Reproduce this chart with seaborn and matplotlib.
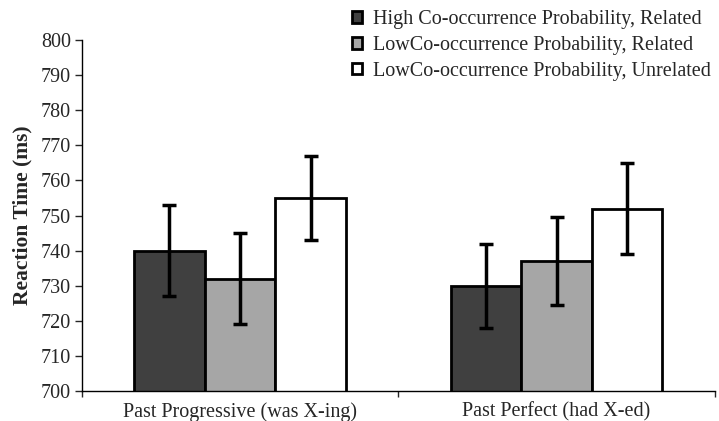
import pandas as pd
import numpy as np
import matplotlib.pyplot as plt
import seaborn as sns

# data
tenses = ['Past Progressive (was X-ing)', 'Past Perfect (had X-ed)']
conditions = ['High Co-occurrence Probability, Related',
              'LowCo-occurrence Probability, Related',
              'LowCo-occurrence Probability, Unrelated']
high_related = [740, 730]
low_related = [732, 737]
low_unrelated = [755, 752]
err_high_related = [13, 12]
err_low_related = [13, 12.5]
err_low_unrelated = [12, 13]

df = pd.DataFrame({
    'tense': tenses * 3,
    'condition': [c for c in conditions for _ in tenses],
    'rt': high_related + low_related + low_unrelated,
})
errs = [err_high_related, err_low_related, err_low_unrelated]

sns.set_style('ticks')
plt.rcParams['font.family'] = ['Liberation Serif', 'DejaVu Serif']

fig = plt.figure(figsize=(7.19, 4.21), dpi=100)
ax = fig.add_axes([0.114, 0.071, 0.880, 0.834])

colors = ['#404040', '#a6a6a6', '#ffffff']
sns.barplot(data=df, x='tense', y='rt', hue='condition', order=tenses,
            hue_order=conditions, palette=colors, width=0.67, errorbar=None,
            edgecolor='black', linewidth=2, ax=ax, saturation=1)

# error bars at bar centres
for cont, e in zip(ax.containers, errs):
    xs = [p.get_x() + p.get_width() / 2 for p in cont]
    hs = [p.get_height() for p in cont]
    ax.errorbar(xs, hs, yerr=e, fmt='none', ecolor='black', elinewidth=2.5,
                capsize=5, capthick=2.5, zorder=5)

ax.set_ylim(700, 800)
ax.set_yticks(np.arange(700, 801, 10))
ax.set_xlim(-0.5, 1.5)
ax.set_xticks([-0.5, 0.5, 1.5], minor=True)
ax.tick_params(axis='x', which='major', length=0, labelsize=14.5, pad=8)
ax.tick_params(axis='x', which='minor', length=4, width=1)
ax.tick_params(axis='y', length=5, width=1, labelsize=14.5, pad=3)
ax.set_xlabel('')
ax.set_ylabel('Reaction Time (ms)', fontsize=15.5, fontweight='bold', labelpad=6)
sns.despine(ax=ax)
for s in ['left', 'bottom']:
    ax.spines[s].set_linewidth(1)
    ax.spines[s].set_color('black')

leg = ax.legend(loc='upper left', bbox_to_anchor=(0.4755, 1.0),
                bbox_transform=fig.transFigure, frameon=False, fontsize=14.5,
                handlelength=0.5, handleheight=0.5, handletextpad=0.55,
                labelspacing=0.34, borderaxespad=0.1)
for h in leg.legend_handles:
    h.set_edgecolor('black')
    h.set_linewidth(2)

fig.savefig('out.png', dpi=100)
